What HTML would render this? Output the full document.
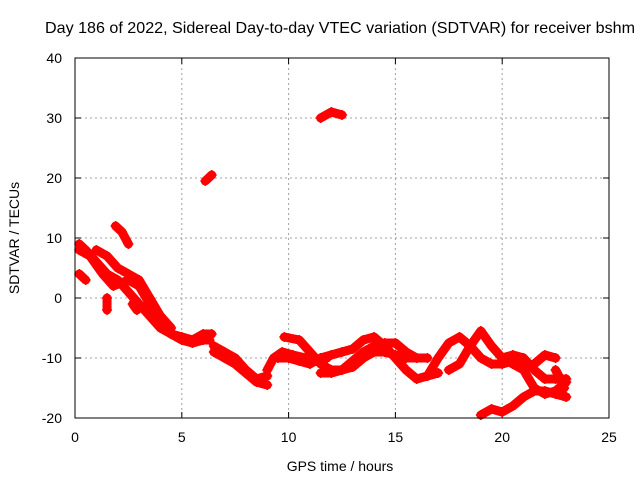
<!DOCTYPE html>
<html><head><meta charset="utf-8"><style>
body{margin:0;background:#fff;}
svg{display:block;font-family:"Liberation Sans",sans-serif;}
</style></head><body>
<svg id="chart" width="640" height="480" xmlns="http://www.w3.org/2000/svg">
<rect width="640" height="480" fill="#fff"/>
<text x="340" y="33" font-size="16" text-anchor="middle" textLength="590" lengthAdjust="spacingAndGlyphs">Day 186 of 2022, Sidereal Day-to-day VTEC variation (SDTVAR) for receiver bshm</text>
<text x="340" y="471" font-size="14" text-anchor="middle">GPS time / hours</text>
<text transform="translate(19,238) rotate(-90)" font-size="14" text-anchor="middle">SDTVAR / TECUs</text>
<g id="grid"></g><g id="ticks"></g><g id="marks"></g>
<rect x="75" y="58" width="534" height="360" fill="none" stroke="#000" stroke-width="1"/>
</svg>
<script>
const xTicks=[0,5,10,15,20,25];
const yTicks=[-20,-10,0,10,20,30,40];
const track1=[[0.2,9],[0.5,8],[1,6],[1.5,4],[2,3],[2.5,1],[3,-1],[3.5,-3],[4,-5],[4.5,-6],[5,-7],[5.5,-7.5],[6,-7],[6.3,-7]];
const track2=[[0.2,8],[0.7,7],[1.3,4],[1.8,2],[2.5,3],[3,2],[3.5,-1],[4,-4],[4.5,-6],[5,-6.5],[5.5,-7],[6,-6],[6.4,-6]];
const track3=[[1,8],[1.5,7],[2,5],[2.5,4],[3,3],[3.5,0],[4,-3],[4.5,-5]];
const track4=[[1.9,12],[2.2,11],[2.5,9]];
const track5=[[0.2,4],[0.5,3]];
const track6=[[1.5,0],[1.5,-2]];
const track7=[[2.7,-1],[2.9,-2]];
const track8=[[6.1,19.5],[6.4,20.5]];
const track9=[[11.5,30],[12,31],[12.5,30.5]];
const track10=[[6.5,-8],[7,-9],[7.5,-10],[8,-12],[8.5,-13.5],[9,-13]];
const track11=[[6.5,-9],[7,-10],[7.5,-11],[8,-12.5],[8.5,-14],[9,-14.5]];
const track12=[[9,-12],[9.3,-10],[9.7,-9],[10.2,-9.5],[10.8,-10],[11.3,-10.5],[11.8,-10]];
const track13=[[9.8,-6.5],[10.5,-7],[11,-9],[11.5,-11],[12,-12],[12.5,-12],[13,-10.5],[13.5,-9],[14,-8],[14.5,-7.5],[15,-7.5],[15.5,-9],[16,-10],[16.5,-10]];
const track14=[[9.5,-10],[10,-10],[10.5,-10.5],[11,-11],[11.5,-10],[12,-9.5],[12.5,-9],[13,-8.5],[13.5,-7],[14,-6.5],[14.5,-8],[15,-10],[15.5,-12],[16,-13.5],[16.5,-13],[17,-12.5]];
const track15=[[11.5,-12.5],[12,-12.5],[12.5,-12],[13,-11.5],[13.5,-10],[14,-9],[14.5,-9],[15,-9.5],[15.5,-10],[16,-10]];
const track16=[[16.5,-13],[17,-10],[17.5,-7.5],[18,-6.5],[18.5,-8],[19,-10],[19.5,-11],[20,-11],[20.5,-10.5]];
const track17=[[17.5,-12],[18,-11],[18.5,-8],[19,-5.5],[19.5,-8],[20,-10],[20.5,-11],[21,-11.5],[21.5,-11],[22,-9.5],[22.5,-10]];
const track18=[[20.5,-11],[21,-12],[21.5,-15],[22,-16],[22.5,-15.5],[23,-14]];
const track19=[[20,-10],[20.5,-9.5],[21,-10],[21.5,-12],[22,-13.5],[22.5,-13.5],[23,-13.5]];
const track20=[[19,-19.5],[19.5,-18.5],[20,-19],[20.5,-18],[21,-16.5],[21.5,-15.5],[22,-15.5],[22.5,-16],[23,-16.5]];
const track21=[[22.5,-12],[22.8,-14],[22.9,-15]];
const tracks=[track1,track2,track3,track4,track5,track6,track7,track8,track9,track10,track11,track12,track13,track14,track15,track16,track17,track18,track19,track20,track21];
const NS="http://www.w3.org/2000/svg";
const X0=75,X1=609,Y0=418,Y1=58;
function sx(t){return X0+(t-0)/(25-0)*(X1-X0);}
function sy(v){return Y0-(v+20)/(40+20)*(Y0-Y1);}
function mk(tag,attrs,parent){const e=document.createElementNS(NS,tag);for(const k in attrs)e.setAttribute(k,attrs[k]);parent.appendChild(e);return e;}
const grid=document.getElementById('grid'),ticks=document.getElementById('ticks'),marks=document.getElementById('marks');
xTicks.forEach(t=>{
  const x=sx(t);
  if(t>0&&t<25){const g=mk('line',{x1:x,x2:x,y1:Y1,y2:Y0,stroke:'#a0a0a0','stroke-dasharray':'2,3'},grid);
  
  }
  mk('line',{x1:x,x2:x,y1:Y0,y2:Y0-6,stroke:'#000'},ticks);
  mk('line',{x1:x,x2:x,y1:Y1,y2:Y1+6,stroke:'#000'},ticks);
  const l=mk('text',{x:x,y:442,'font-size':14,'text-anchor':'middle'},ticks);l.textContent=t;
  
  
});
yTicks.forEach(v=>{
  const y=sy(v);
  if(v>-20&&v<40){const g=mk('line',{x1:X0,x2:X1,y1:y,y2:y,stroke:'#a0a0a0','stroke-dasharray':'2,3'},grid);
  
  }
  mk('line',{x1:X0,x2:X0+6,y1:y,y2:y,stroke:'#000'},ticks);
  mk('line',{x1:X1,x2:X1-6,y1:y,y2:y,stroke:'#000'},ticks);
  const l=mk('text',{x:62,y:y+5,'font-size':14,'text-anchor':'end'},ticks);l.textContent=v;
  
  
});
tracks.forEach((tr,i)=>{
  const pts=tr.map(p=>sx(p[0])+','+sy(p[1])).join(' ');
  const pl=mk('polyline',{points:pts,fill:'none',stroke:'#ff0000','stroke-width':9,'stroke-linejoin':'round','stroke-linecap':'round'},marks);
  
  
  tr.forEach(p=>{
    const x=sx(p[0]),y=sy(p[1]);
    const m=mk('path',{d:`M${x-5},${y}H${x+5}M${x},${y-5}V${y+5}`,stroke:'#ff0000','stroke-width':1.5},marks);
    
    
  });
});
</script>
</body></html>
